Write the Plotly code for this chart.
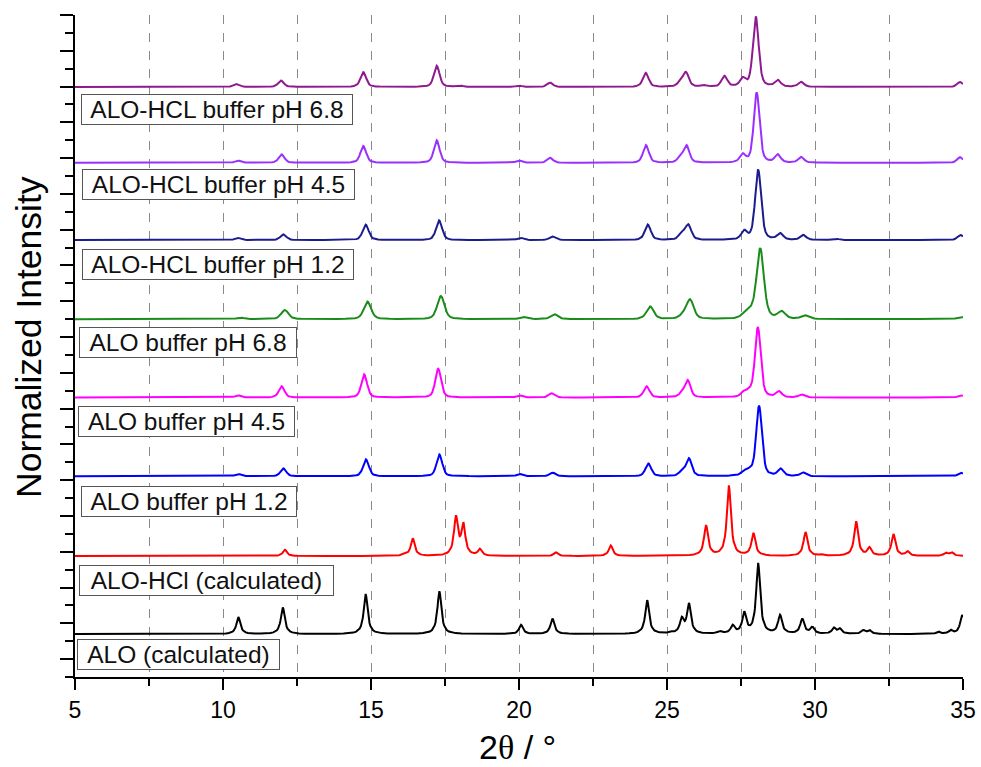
import numpy as np
import plotly.graph_objects as go

# ---------------- data ----------------
labels = [
    "ALO (calculated)",
    "ALO-HCl (calculated)",
    "ALO buffer pH 1.2",
    "ALO buffer pH 4.5",
    "ALO buffer pH 6.8",
    "ALO-HCL buffer pH 1.2",
    "ALO-HCL buffer pH 4.5",
    "ALO-HCL buffer pH 6.8",
]

# peak positions (2theta, deg) and normalized intensities (%) per pattern
alo_calc_pos = [10.52, 12.02, 14.82, 17.31, 20.07, 21.13, 24.33, 25.12, 25.50, 25.74, 26.79, 27.22,
                27.61, 28.08, 28.82, 29.57, 29.91, 30.64, 30.84, 31.63, 31.84, 34.17, 34.58, 34.97]
alo_calc_int = [24, 38, 57, 61, 13, 22, 48, 2, 20, 42, 3, 11,
                29, 100, 26, 21, 9, 8, 7, 5, 5, 3, 5, 27]

alohcl_calc_pos = [12.09, 16.11, 16.41, 17.87, 18.12, 18.68, 21.25, 23.10, 26.32, 27.09, 27.92,
                   29.68, 30.22, 31.39, 31.84, 32.65, 33.13, 34.42, 34.62]
alohcl_calc_int = [9, 2, 25, 54, 43, 9, 5, 15, 43, 100, 32,
                   34, 2, 49, 11, 31, 6, 4, 5]

alo_ph12_pos = [10.52, 12.04, 14.83, 17.31, 20.03, 21.14, 24.37, 25.50, 25.74, 27.60, 27.80, 28.11, 28.84, 29.60, 34.93]
alo_ph12_int = [3, 11, 24, 31, 3, 5, 18, 6, 25, 6, 6, 100, 10, 5, 5]

alo_ph45_pos = [10.50, 11.98, 14.77, 17.27, 20.03, 21.10, 24.31, 25.50, 25.70, 27.60, 27.78, 28.07, 28.78, 29.55, 34.93]
alo_ph45_int = [3, 16, 33, 41, 3, 6, 16, 5, 24, 6, 6, 100, 8, 4, 3]

alo_ph68_pos = [10.60, 12.09, 14.88, 17.36, 20.15, 21.19, 24.43, 25.55, 25.78, 27.65, 27.85, 28.15, 28.87, 29.66, 34.93]
alo_ph68_int = [2, 13, 25, 33, 3, 7, 18, 5, 27, 6, 7, 100, 10, 5, 3]

alohcl_ph12_pos = [10.50, 12.04, 14.82, 17.30, 20.06, 21.14, 24.35, 25.50, 25.72, 27.61, 28.08, 28.82, 29.60, 30.70, 34.92]
alohcl_ph12_int = [3, 8, 22, 28, 3, 5, 22, 9, 21, 12, 100, 9, 7, 2, 7]

alohcl_ph45_pos = [10.50, 11.98, 14.74, 17.22, 20.00, 21.05, 24.29, 25.45, 25.66, 27.56, 28.03, 28.74, 29.53, 34.90]
alohcl_ph45_int = [3, 12, 24, 32, 3, 7, 25, 7, 24, 11, 100, 11, 8, 8]

alohcl_ph68_pos = [10.44, 11.96, 14.74, 17.22, 18.00, 19.98, 21.05, 24.28, 25.45, 25.64, 26.23, 26.94,
                   27.56, 28.00, 28.74, 29.53, 34.90]
alohcl_ph68_int = [4, 9, 21, 30, 2, 2, 6, 20, 6, 20, 2, 15,
                   11, 100, 9, 7, 7]

x_ticks = [5, 10, 15, 20, 25, 30, 35]

# ---------------- styling ----------------
colors = ["#000000", "#ff0000", "#0000ff", "#ff00ff", "#1a8c1a", "#1c1c8c", "#9a30ff", "#8e1a8e"]
offsets = [70, 288, 511, 731, 950, 1171, 1387, 1599]      # vertical stacking offsets
scale = 1.96                                             # axis units per % intensity
widths = [0.08, 0.08, 0.115, 0.115, 0.145, 0.12, 0.115, 0.115]  # peak half widths (deg)
etas = [1.0, 1.0, 0.45, 0.45, 0.45, 0.45, 0.45, 0.45]

peak_sets = [
    (alo_calc_pos, alo_calc_int),
    (alohcl_calc_pos, alohcl_calc_int),
    (alo_ph12_pos, alo_ph12_int),
    (alo_ph45_pos, alo_ph45_int),
    (alo_ph68_pos, alo_ph68_int),
    (alohcl_ph12_pos, alohcl_ph12_int),
    (alohcl_ph45_pos, alohcl_ph45_int),
    (alohcl_ph68_pos, alohcl_ph68_int),
]


def render(pos, inten, hw, eta):
    """Draw a peak list as a line: profile evaluated around each listed peak."""
    pos = np.asarray(pos, float)
    inten = np.asarray(inten, float)
    offs = np.array([0, .02, .04, .06, .08, .10, .13, .16, .20, .25, .32, .42, .55, .75, 1.0, 1.4])
    offs = np.concatenate([-offs[::-1], offs[1:]])
    nodes = (pos[:, None] + offs[None, :]).ravel()
    nodes = np.unique(np.clip(np.concatenate([[5.0, 35.0], nodes]), 5.0, 35.0))
    d = (nodes[None, :] - pos[:, None]) / hw
    prof = eta / (1 + d ** 2) + (1 - eta) * np.exp(-np.log(2) * d ** 2)
    return nodes, (inten[:, None] * prof).sum(axis=0)


fig = go.Figure()
for (pos, inten), c, off, hw, eta, name in zip(peak_sets, colors, offsets, widths, etas, labels):
    xx, yy = render(pos, inten, hw, eta)
    fig.add_trace(go.Scatter(x=xx, y=off + scale * yy, mode="lines", name=name,
                             line=dict(color=c, width=2), showlegend=False, hoverinfo="skip"))

FONT = "Liberation Sans, Arial, sans-serif"

W, H = 981, 767
PL, PT, PW, PH = 75, 15, 888, 662      # plot area in pixels

# label boxes: left edge px, centre px, box width px
box_left = [77, 79, 81, 78, 79, 82, 82, 81]
box_center = [654, 580, 501, 421, 342, 264, 185, 110]
box_w = [203, 255, 216, 217, 218, 272, 273, 272]
annotations = []
for lab, bl, bc, bw in zip(labels, box_left, box_center, box_w):
    annotations.append(dict(
        text=lab, xref="paper", yref="paper",
        x=(bl - PL) / PW, y=(PT + PH - bc) / PH,
        xanchor="left", yanchor="middle", showarrow=False,
        font=dict(family=FONT, size=24.5, color="#111111"),
        bordercolor="#555555", borderwidth=1, borderpad=1,
        bgcolor="white", width=bw - 4, align="center"))

annotations.append(dict(text="Normalized Intensity", xref="paper", yref="paper",
                        x=(29 - PL) / PW, y=(PT + PH - 337) / PH, textangle=-90,
                        xanchor="center", yanchor="middle", showarrow=False,
                        font=dict(family=FONT, size=35.5, color="black")))
annotations.append(dict(text="2<span style='font-family:Liberation Serif'>θ</span> / °",
                        xref="paper", yref="paper",
                        x=(517 - PL) / PW, y=(PT + PH - 747) / PH,
                        xanchor="center", yanchor="middle", showarrow=False,
                        font=dict(family=FONT, size=34, color="black")))

fig.update_layout(
    width=W, height=H,
    margin=dict(l=PL, r=W - (PL + PW), t=PT, b=H - (PT + PH)),
    paper_bgcolor="white", plot_bgcolor="white",
    annotations=annotations,
    xaxis=dict(range=[5, 35], tickvals=x_ticks, ticks="outside", ticklen=11, tickwidth=2,
               tickcolor="black", showline=True, linewidth=2, linecolor="black",
               tickfont=dict(family=FONT, size=23, color="black"),
               ticklabeloverflow="allow", automargin=False,
               showgrid=True, gridcolor="#8a8a8a", gridwidth=1, griddash="dash",
               zeroline=False,
               minor=dict(dtick=2.5, tick0=5, ticks="outside", ticklen=7, tickwidth=2,
                          tickcolor="black", showgrid=True, gridcolor="#8a8a8a",
                          gridwidth=1, griddash="dash")),
    yaxis=dict(range=[-50, 1800], tick0=0, dtick=100, ticks="outside", ticklen=13, tickwidth=2,
               tickcolor="black", showticklabels=False, showline=True, linewidth=2,
               linecolor="black", showgrid=False, zeroline=False, automargin=False,
               minor=dict(dtick=50, tick0=0, ticks="outside", ticklen=8, tickwidth=2,
                          tickcolor="black", showgrid=False)),
)

# remove the default 8px page margin so the figure fills the window exactly
fig.write_html("out.html", config={"displayModeBar": False},
               post_script="document.body.style.margin='0px';document.body.style.overflow='hidden';")
